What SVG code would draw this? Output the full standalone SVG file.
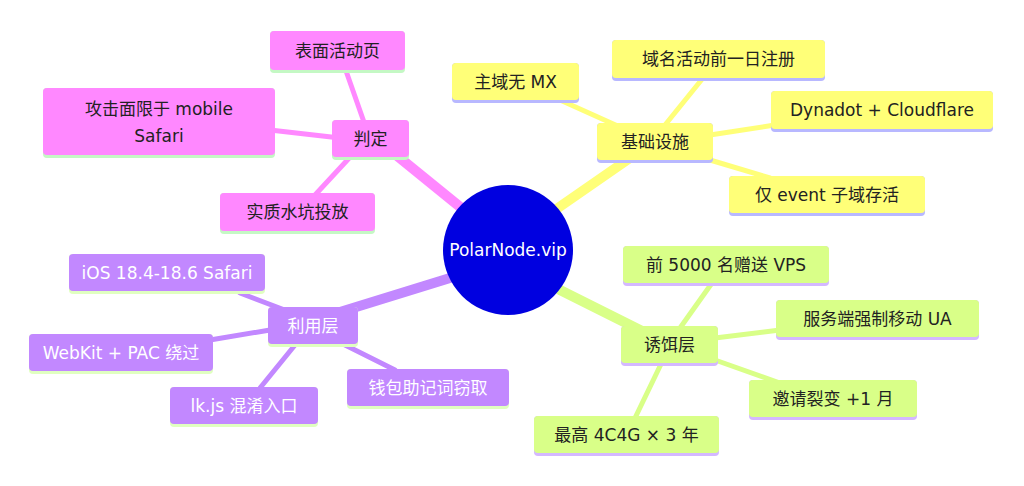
<svg xmlns="http://www.w3.org/2000/svg" width="1024" height="486" viewBox="0 0 1024 486">
<style>
text{font-family:"DejaVu Sans","Noto Sans CJK SC",sans-serif;font-size:17px;text-anchor:middle;dominant-baseline:central}
.p rect.b{fill:#ff88ff}.p rect.u{fill:#c4f8c4}
.y rect.b{fill:#ffff78}.y rect.u{fill:#b8b8ff}
.g rect.b{fill:#d9ff88}.g rect.u{fill:#d4b8ff}
.v rect.b{fill:#c288ff}.v rect.u{fill:#e0ffc0}
.v text{fill:#fff}
.lp{stroke:#ff88ff}.ly{stroke:#ffff78}.lg{stroke:#d9ff88}.lv{stroke:#c288ff}
#edges line{stroke-linecap:round}
</style>
<g id="edges">
<line class="lp" x1="470" y1="215" x2="390" y2="150" stroke-width="10"/>
<line class="lp" x1="365" y1="125" x2="345" y2="68" stroke-width="5"/>
<line class="lp" x1="340" y1="138" x2="270" y2="130" stroke-width="5"/>
<line class="lp" x1="352" y1="155" x2="315" y2="195" stroke-width="5"/>
<line class="ly" x1="555" y1="210" x2="630" y2="158" stroke-width="10"/>
<line class="ly" x1="620" y1="127" x2="560" y2="100" stroke-width="5"/>
<line class="ly" x1="665" y1="125" x2="703" y2="78" stroke-width="5"/>
<line class="ly" x1="710" y1="135" x2="775" y2="125" stroke-width="5"/>
<line class="ly" x1="710" y1="160" x2="770" y2="178" stroke-width="5"/>
<line class="lg" x1="560" y1="290" x2="650" y2="335" stroke-width="10"/>
<line class="lg" x1="680" y1="328" x2="712" y2="283" stroke-width="5"/>
<line class="lg" x1="715" y1="338" x2="780" y2="330" stroke-width="5"/>
<line class="lg" x1="715" y1="360" x2="780" y2="383" stroke-width="5"/>
<line class="lg" x1="662" y1="362" x2="635" y2="418" stroke-width="5"/>
<line class="lv" x1="450" y1="278" x2="340" y2="312" stroke-width="10"/>
<line class="lv" x1="290" y1="312" x2="240" y2="293" stroke-width="5"/>
<line class="lv" x1="270" y1="330" x2="210" y2="340" stroke-width="5"/>
<line class="lv" x1="295" y1="345" x2="260" y2="388" stroke-width="5"/>
<line class="lv" x1="345" y1="345" x2="395" y2="370" stroke-width="5"/>
</g>
<g id="root"><circle cx="508" cy="250" r="65" fill="#0000e0"/><text x="508" y="250" fill="#fff">PolarNode.vip</text></g>
<g class="p">
<g id="n1"><rect class="u" x="332" y="120" width="77" height="40" rx="4"/><rect class="b" x="332" y="120" width="77" height="37" rx="4"/><text x="370.5" y="139" fill="#222">判定</text></g>
<g id="n1a"><rect class="u" x="270" y="31" width="135" height="42" rx="4"/><rect class="b" x="270" y="31" width="135" height="39" rx="4"/><text x="337.5" y="51" fill="#222">表面活动页</text></g>
<g id="n1b"><rect class="u" x="43" y="88" width="232" height="70" rx="4"/><rect class="b" x="43" y="88" width="232" height="67" rx="4"/><text x="159" y="109" fill="#222">攻击面限于 mobile</text><text x="159" y="136" fill="#222">Safari</text></g>
<g id="n1c"><rect class="u" x="220" y="193" width="155" height="41" rx="4"/><rect class="b" x="220" y="193" width="155" height="38" rx="4"/><text x="297.5" y="212" fill="#222">实质水坑投放</text></g>
</g>
<g class="y">
<g id="n2"><rect class="u" x="597" y="123" width="116" height="40" rx="4"/><rect class="b" x="597" y="123" width="116" height="37" rx="4"/><text x="655" y="142" fill="#222">基础设施</text></g>
<g id="n2a"><rect class="u" x="452" y="63" width="127" height="40" rx="4"/><rect class="b" x="452" y="63" width="127" height="37" rx="4"/><text x="515.5" y="82" fill="#222">主域无 MX</text></g>
<g id="n2b"><rect class="u" x="612" y="40" width="213" height="41" rx="4"/><rect class="b" x="612" y="40" width="213" height="38" rx="4"/><text x="718.5" y="59" fill="#222">域名活动前一日注册</text></g>
<g id="n2c"><rect class="u" x="771" y="91" width="222" height="41" rx="4"/><rect class="b" x="771" y="91" width="222" height="38" rx="4"/><text x="882" y="110" fill="#222">Dynadot + Cloudflare</text></g>
<g id="n2d"><rect class="u" x="729" y="176" width="196" height="40" rx="4"/><rect class="b" x="729" y="176" width="196" height="37" rx="4"/><text x="827" y="195" fill="#222">仅 event 子域存活</text></g>
</g>
<g class="g">
<g id="n3"><rect class="u" x="621" y="326" width="97" height="40" rx="4"/><rect class="b" x="621" y="326" width="97" height="37" rx="4"/><text x="669.5" y="345" fill="#222">诱饵层</text></g>
<g id="n3a"><rect class="u" x="623" y="246" width="206" height="40" rx="4"/><rect class="b" x="623" y="246" width="206" height="37" rx="4"/><text x="726" y="265" fill="#222">前 5000 名赠送 VPS</text></g>
<g id="n3b"><rect class="u" x="776" y="300" width="203" height="40" rx="4"/><rect class="b" x="776" y="300" width="203" height="37" rx="4"/><text x="877.5" y="319" fill="#222">服务端强制移动 UA</text></g>
<g id="n3c"><rect class="u" x="749" y="380" width="168" height="40" rx="4"/><rect class="b" x="749" y="380" width="168" height="37" rx="4"/><text x="833" y="399" fill="#222">邀请裂变 +1 月</text></g>
<g id="n3d"><rect class="u" x="534" y="416" width="185" height="40" rx="4"/><rect class="b" x="534" y="416" width="185" height="37" rx="4"/><text x="626.5" y="435" fill="#222">最高 4C4G × 3 年</text></g>
</g>
<g class="v">
<g id="n4"><rect class="u" x="268" y="307" width="90" height="40" rx="4"/><rect class="b" x="268" y="307" width="90" height="37" rx="4"/><text x="313" y="326">利用层</text></g>
<g id="n4a"><rect class="u" x="69" y="254" width="196" height="40" rx="4"/><rect class="b" x="69" y="254" width="196" height="37" rx="4"/><text x="167" y="273">iOS 18.4-18.6 Safari</text></g>
<g id="n4b"><rect class="u" x="29" y="334" width="184" height="40" rx="4"/><rect class="b" x="29" y="334" width="184" height="37" rx="4"/><text x="121" y="353">WebKit + PAC 绕过</text></g>
<g id="n4c"><rect class="u" x="170" y="387" width="148" height="40" rx="4"/><rect class="b" x="170" y="387" width="148" height="37" rx="4"/><text x="244" y="406">lk.js 混淆入口</text></g>
<g id="n4d"><rect class="u" x="347" y="369" width="162" height="40" rx="4"/><rect class="b" x="347" y="369" width="162" height="37" rx="4"/><text x="428" y="388">钱包助记词窃取</text></g>
</g>
</svg>
